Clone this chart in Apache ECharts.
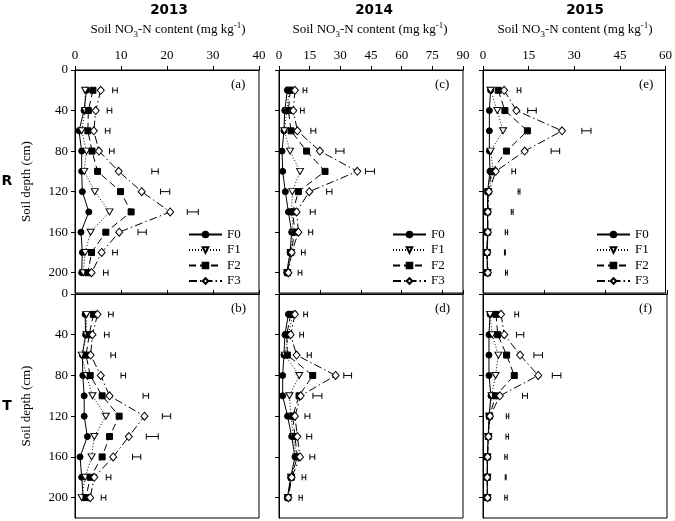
<!DOCTYPE html>
<html>
<head>
<meta charset="utf-8">
<script src="https://cdn.jsdelivr.net/npm/echarts@6/dist/echarts.min.js"></script>
<style>html,body{margin:0;padding:0;background:#fff;}#c{width:675px;height:521px;}</style>
</head>
<body>
<div id="c"></div>
<script>
// ---------- data ----------
const depths = [20, 40, 60, 80, 100, 120, 140, 160, 180, 200];
const depthTicks = [0, 40, 80, 120, 160, 200];
const seriesNames = ['F0', 'F1', 'F2', 'F3'];
const years = ['2013', '2014', '2015'];
const rows = ['R', 'T'];
const panelLetters = ['(a)', '(c)', '(e)', '(b)', '(d)', '(f)'];

// (a) R 2013
const a_F0 = [2.5, 1.96, 0.87, 1.45, 1.45, 1.6, 3.0, 1.3, 1.6, 1.45];
const a_F1 = [2.2, 2.2, 1.45, 2.5, 2.0, 4.3, 7.5, 3.4, 2.2, 1.8];
const a_F2 = [3.9, 2.9, 2.8, 3.7, 4.9, 9.9, 12.2, 6.7, 3.6, 2.8];
const a_F3 = [5.6, 4.5, 4.1, 5.2, 9.5, 14.5, 20.7, 9.6, 5.8, 3.6];
const a_errX = [8.7, 7.5, 7.1, 8.0, 17.4, 19.6, 25.6, 14.6, 8.7, 6.7];
const a_errHW = [0.5, 0.5, 0.5, 0.5, 0.7, 1.0, 1.2, 0.9, 0.5, 0.5];

// (c) R 2014
const c_F0 = [4.1, 2.8, 2.4, 1.5, 1.8, 3.1, 4.6, 6.2, 5.4, 3.75];
const c_F1 = [5.0, 3.8, 2.6, 5.4, 10.3, 6.5, 6.2, 7.0, 5.8, 4.0];
const c_F2 = [5.5, 4.6, 5.9, 13.5, 22.5, 9.5, 6.7, 7.8, 5.8, 4.2];
const c_F3 = [7.8, 7.0, 9.0, 20.0, 38.3, 14.8, 8.6, 9.5, 6.2, 4.6];
const c_errX = [12.7, 11.4, 16.8, 29.8, 44.5, 24.6, 16.5, 15.5, 11.9, 10.3];
const c_errHW = [0.9, 0.9, 1.2, 2.0, 2.2, 1.3, 1.2, 1.0, 0.9, 0.9];

// (e) R 2015
const e_F0 = [2.5, 2.1, 2.1, 2.1, 2.3, 1.5, 1.5, 1.5, 1.3, 1.5];
const e_F1 = [2.5, 4.7, 6.6, 2.5, 3.4, 1.7, 1.5, 1.5, 1.3, 1.5];
const e_F2 = [5.0, 7.2, 14.6, 7.7, 2.8, 1.7, 1.5, 1.5, 1.3, 1.5];
const e_F3 = [6.95, 10.98, 25.98, 13.7, 4.2, 1.95, 1.6, 1.6, 1.4, 1.6];
const e_errX = [11.85, 16.1, 34.0, 23.8, 10.1, 11.85, 9.6, 7.7, 7.2, 7.7];
const e_errHW = [0.6, 1.4, 1.5, 1.4, 0.6, 0.3, 0.3, 0.4, 0.15, 0.3];

// (b) T 2013
const b_F0 = [2.2, 2.3, 1.6, 1.7, 2.0, 2.0, 2.7, 1.1, 1.45, 1.8];
const b_F1 = [2.5, 2.5, 1.45, 2.5, 3.8, 6.7, 4.2, 3.6, 2.2, 1.45];
const b_F2 = [4.0, 3.1, 2.4, 3.3, 5.9, 9.6, 7.5, 5.9, 3.3, 2.4];
const b_F3 = [4.9, 3.8, 3.4, 5.6, 7.5, 15.1, 11.7, 8.3, 4.2, 3.3];
const b_errX = [7.8, 6.9, 8.3, 10.5, 15.4, 19.9, 16.8, 13.4, 7.3, 6.2];
const b_errHW = [0.5, 0.5, 0.5, 0.5, 0.6, 0.9, 1.3, 0.9, 0.5, 0.5];

// (d) T 2014
const d_F0 = [4.6, 2.9, 2.4, 1.8, 1.8, 4.2, 6.2, 7.8, 5.7, 4.1];
const d_F1 = [6.7, 4.6, 2.9, 9.9, 5.1, 5.9, 7.0, 8.6, 5.9, 4.3];
const d_F2 = [5.7, 3.8, 4.1, 16.5, 9.8, 6.7, 7.8, 8.98, 6.0, 4.4];
const d_F3 = [7.8, 5.7, 8.6, 27.7, 10.6, 7.8, 8.98, 10.3, 6.2, 4.6];
const d_errX = [13.0, 11.1, 14.8, 33.6, 18.8, 13.9, 14.8, 16.3, 12.2, 10.6];
const d_errHW = [0.9, 0.9, 1.0, 1.9, 2.2, 1.2, 1.2, 1.2, 0.9, 0.8];

// (f) T 2015
const f_F0 = [2.3, 1.95, 1.95, 1.95, 2.6, 1.95, 1.7, 1.4, 1.4, 1.4];
const f_F1 = [2.3, 3.0, 5.0, 4.1, 2.8, 2.0, 1.7, 1.4, 1.4, 1.4];
const f_F2 = [4.25, 4.8, 7.7, 10.2, 4.1, 2.1, 1.7, 1.4, 1.4, 1.4];
const f_F3 = [5.9, 6.95, 12.1, 18.0, 5.5, 2.3, 1.8, 1.5, 1.4, 1.5];
const f_errX = [11.0, 12.1, 18.0, 24.0, 13.7, 8.0, 7.9, 7.5, 7.4, 7.5];
const f_errHW = [0.6, 1.2, 1.4, 1.4, 0.8, 0.4, 0.4, 0.4, 0.15, 0.4];

// x-axis extents per year column, tick intervals
const xMax = [40, 90, 60];
const xIntervalR = [10, 15, 15];
const xIntervalT = [10, 20, 20];

// ---------- layout / style ----------
const SERIF = '"Liberation Serif", "Times New Roman", serif';
const SANS_B = '"DejaVu Sans", Verdana, sans-serif';
const colLeft = [75, 279, 483];
const colW = 184;
const rowTop = [70, 294];
const rowH = [223, 224];

const panels = [
  { row: 0, col: 0, vals: [a_F0, a_F1, a_F2, a_F3], errX: a_errX, errHW: a_errHW },
  { row: 0, col: 1, vals: [c_F0, c_F1, c_F2, c_F3], errX: c_errX, errHW: c_errHW },
  { row: 0, col: 2, vals: [e_F0, e_F1, e_F2, e_F3], errX: e_errX, errHW: e_errHW },
  { row: 1, col: 0, vals: [b_F0, b_F1, b_F2, b_F3], errX: b_errX, errHW: b_errHW },
  { row: 1, col: 1, vals: [d_F0, d_F1, d_F2, d_F3], errX: d_errX, errHW: d_errHW },
  { row: 1, col: 2, vals: [f_F0, f_F1, f_F2, f_F3], errX: f_errX, errHW: f_errHW }
];

const styles = [
  { symbol: 'circle', size: 6, rotate: 0, fill: '#000', dash: 'solid' },
  { symbol: 'triangle', size: [7, 6], rotate: 180, fill: '#fff', dash: [1, 2] },
  { symbol: 'rect', size: 6, rotate: 0, fill: '#000', dash: [7, 4] },
  { symbol: 'diamond', size: [7, 8], rotate: 0, fill: '#fff', dash: [8, 3, 1.5, 3] }
];

const grids = [], xAxes = [], yAxes = [], series = [], legends = [], graphics = [];

panels.forEach((p, i) => {
  grids.push({
    left: colLeft[p.col], top: rowTop[p.row], width: colW, height: rowH[p.row],
    show: true, borderColor: '#000', borderWidth: 1, backgroundColor: 'transparent'
  });
  xAxes.push({
    gridIndex: i, type: 'value', position: 'top', min: 0, max: xMax[p.col],
    interval: p.row === 0 ? xIntervalR[p.col] : xIntervalT[p.col],
    axisLine: { show: true, lineStyle: { color: '#000', width: 1 } },
    axisTick: { show: true, inside: false, length: 4, lineStyle: { color: '#000' } },
    axisLabel: { show: p.row === 0, margin: 8, color: '#000', fontFamily: SERIF, fontSize: 13 },
    splitLine: { show: false }
  });
  yAxes.push({
    gridIndex: i, type: 'value', inverse: true, min: 0, max: 220,
    name: p.col === 0 ? 'Soil depth (cm)' : '',
    nameLocation: 'middle', nameRotate: 90, nameGap: 42,
    nameTextStyle: { fontFamily: SERIF, fontSize: 13, color: '#000' },
    axisLine: { show: true, lineStyle: { color: '#000', width: 1 } },
    axisTick: { show: true, inside: false, length: 4, customValues: depthTicks, lineStyle: { color: '#000' } },
    axisLabel: { show: p.col === 0, customValues: depthTicks, margin: 7, color: '#000', fontFamily: SERIF, fontSize: 13 },
    splitLine: { show: false }
  });
  p.vals.forEach((v, k) => {
    const s = styles[k];
    series.push({
      type: 'line', name: seriesNames[k], xAxisIndex: i, yAxisIndex: i,
      data: depths.map((d, j) => [v[j], d]),
      symbol: s.symbol, symbolSize: s.size, symbolRotate: s.rotate,
      showAllSymbol: true,
      itemStyle: { color: s.fill, borderColor: '#000', borderWidth: 1 },
      lineStyle: { color: '#000', width: 1, type: s.dash },
      z: 3 + k,
      emphasis: { disabled: true }, silent: true
    });
  });
  series.push({
    type: 'custom', name: 'LSD', xAxisIndex: i, yAxisIndex: i, silent: true,
    data: depths.map((d, j) => [p.errX[j], d, p.errHW[j]]),
    encode: { x: 0, y: 1 },
    renderItem: function (params, api) {
      const x = api.value(0), y = api.value(1), hw = api.value(2);
      const l = api.coord([x - hw, y]);
      const r = api.coord([x + hw, y]);
      const h = 3;
      const st = { stroke: '#000', lineWidth: 1 };
      return {
        type: 'group', children: [
          { type: 'line', shape: { x1: l[0], y1: l[1], x2: r[0], y2: r[1] }, style: st },
          { type: 'line', shape: { x1: l[0], y1: l[1] - h, x2: l[0], y2: l[1] + h }, style: st },
          { type: 'line', shape: { x1: r[0], y1: r[1] - h, x2: r[0], y2: r[1] + h }, style: st }
        ]
      };
    }
  });
  if (p.row === 0) {
    legends.push({
      data: seriesNames, orient: 'vertical', selectedMode: false,
      left: colLeft[p.col] + 113, top: 228,
      itemWidth: 33, itemHeight: 7, itemGap: 2.5, padding: 0,
      textStyle: { fontFamily: SERIF, fontSize: 13, lineHeight: 13, color: '#000' }
    });
  }
  graphics.push({
    type: 'text', left: colLeft[p.col] + colW - 28, top: rowTop[p.row] + 8,
    style: { text: panelLetters[i], font: '13px ' + SERIF, fill: '#000' }
  });
});

const yearX = [169, 374, 585];
const subX = [168, 370, 575];
years.forEach((y, c) => {
  graphics.push({
    type: 'text', x: yearX[c], y: 10,
    style: { text: y, font: 'bold 13.5px ' + SANS_B, fill: '#000', align: 'center', verticalAlign: 'middle' }
  });
  graphics.push({
    type: 'text', x: subX[c], y: 30,
    style: {
      text: 'Soil NO{sub|3}-N content (mg kg{sup|-1})',
      font: '13px ' + SERIF, fill: '#000', align: 'center', verticalAlign: 'middle', lineHeight: 18,
      rich: {
        sub: { fontSize: 9, fontFamily: SERIF, lineHeight: 9, verticalAlign: 'bottom', fill: '#000' },
        sup: { fontSize: 9, fontFamily: SERIF, lineHeight: 9, verticalAlign: 'top', fill: '#000' }
      }
    }
  });
});
const rowLabelY = [181, 406];
rows.forEach((r, k) => {
  graphics.push({
    type: 'text', x: 7, y: rowLabelY[k],
    style: { text: r, font: 'bold 14px ' + SANS_B, fill: '#000', align: 'center', verticalAlign: 'middle' }
  });
});

const chart = echarts.init(document.getElementById('c'), null, { renderer: 'canvas' });
chart.setOption({
  animation: false,
  backgroundColor: '#fff',
  grid: grids, xAxis: xAxes, yAxis: yAxes, series: series,
  legend: legends, graphic: graphics
});
</script>
</body>
</html>
